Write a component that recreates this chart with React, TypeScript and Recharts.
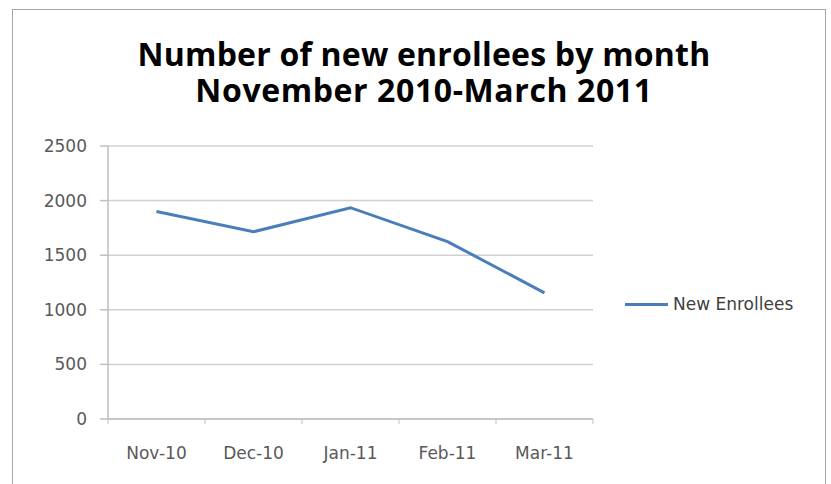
import React from 'react';
import { LineChart, Line, XAxis, YAxis, CartesianGrid } from 'recharts';

const months = ['Nov-10', 'Dec-10', 'Jan-11', 'Feb-11', 'Mar-11'];
const newEnrollees = [1900, 1715, 1935, 1625, 1155];
const yTicks = [0, 500, 1000, 1500, 2000, 2500];
const seriesName = 'New Enrollees';
const titleLines = ['Number of new enrollees by month', 'November 2010-March 2011'];

const data = months.map((m, i) => ({ pos: i + 0.5, month: m, value: newEnrollees[i] }));
const xTicks: number[] = [0];
months.forEach((_, i) => { xTicks.push(i + 0.5); xTicks.push(i + 1); });

const TITLE_FONT = '"Open Sans", sans-serif';
const FONT = '"DejaVu Sans", sans-serif';
const AXIS = '#bfbfbf';
const LINE = '#4a7ebb';

const XTick = (props: any) => {
  const { x, y, payload } = props;
  const v = payload.value;
  if (Number.isInteger(v)) {
    return <line x1={x} x2={x} y1={y} y2={y + 5} stroke={AXIS} strokeWidth={1} />;
  }
  return (
    <text x={x} y={y + 40} textAnchor="middle" fontFamily={FONT} fontSize={17} fill="#595959">
      {months[Math.floor(v)]}
    </text>
  );
};

export default function App() {
  return (
    <div style={{ position: 'absolute', left: 0, top: 0, width: 831, height: 484, overflow: 'hidden', background: '#fff' }}>
      <div style={{ position: 'absolute', left: 12, top: 9, width: 812, height: 500, border: '1px solid #a6a6a6' }} />
      {titleLines.map((t, i) => (
        <div
          key={t}
          style={{ position: 'absolute', left: 0, top: 38 + i * 36, width: 848, textAlign: 'center', fontFamily: TITLE_FONT, fontWeight: 700, fontSize: 32, lineHeight: '32px', color: '#000', letterSpacing: i === 1 ? 0.6 : 0.2 }}
        >
          {t}
        </div>
      ))}
      <div style={{ position: 'absolute', left: 0, top: 0 }}>
        <LineChart width={831} height={484} data={data} margin={{ top: 146, right: 238, bottom: 0, left: 0 }}>
          <CartesianGrid horizontal vertical={false} stroke="#d0d0d0" strokeWidth={1.5} />
          <XAxis
            dataKey="pos"
            type="number"
            domain={[0, 5]}
            ticks={xTicks}
            interval={0}
            tick={<XTick />}
            tickLine={false}
            tickSize={0}
            tickMargin={0}
            height={65}
            axisLine={{ stroke: AXIS, strokeWidth: 1.5 }}
          />
          <YAxis
            type="number"
            domain={[0, 2500]}
            ticks={yTicks}
            interval={0}
            width={108}
            tickSize={8}
            tickMargin={13}
            axisLine={{ stroke: AXIS, strokeWidth: 1.5 }}
            tickLine={{ stroke: AXIS, strokeWidth: 1.5 }}
            tick={{ fontFamily: FONT, fontSize: 17, fill: '#595959' }}
          />
          <Line
            type="linear"
            dataKey="value"
            name={seriesName}
            stroke={LINE}
            strokeWidth={3}
            dot={false}
            isAnimationActive={false}
          />
        </LineChart>
      </div>
      <div style={{ position: 'absolute', left: 625, top: 294, display: 'flex', alignItems: 'center', fontFamily: FONT, fontSize: 17, color: '#404040' }}>
        <div style={{ width: 43, height: 3, background: LINE, marginRight: 5 }} />
        <span>{seriesName}</span>
      </div>
    </div>
  );
}
